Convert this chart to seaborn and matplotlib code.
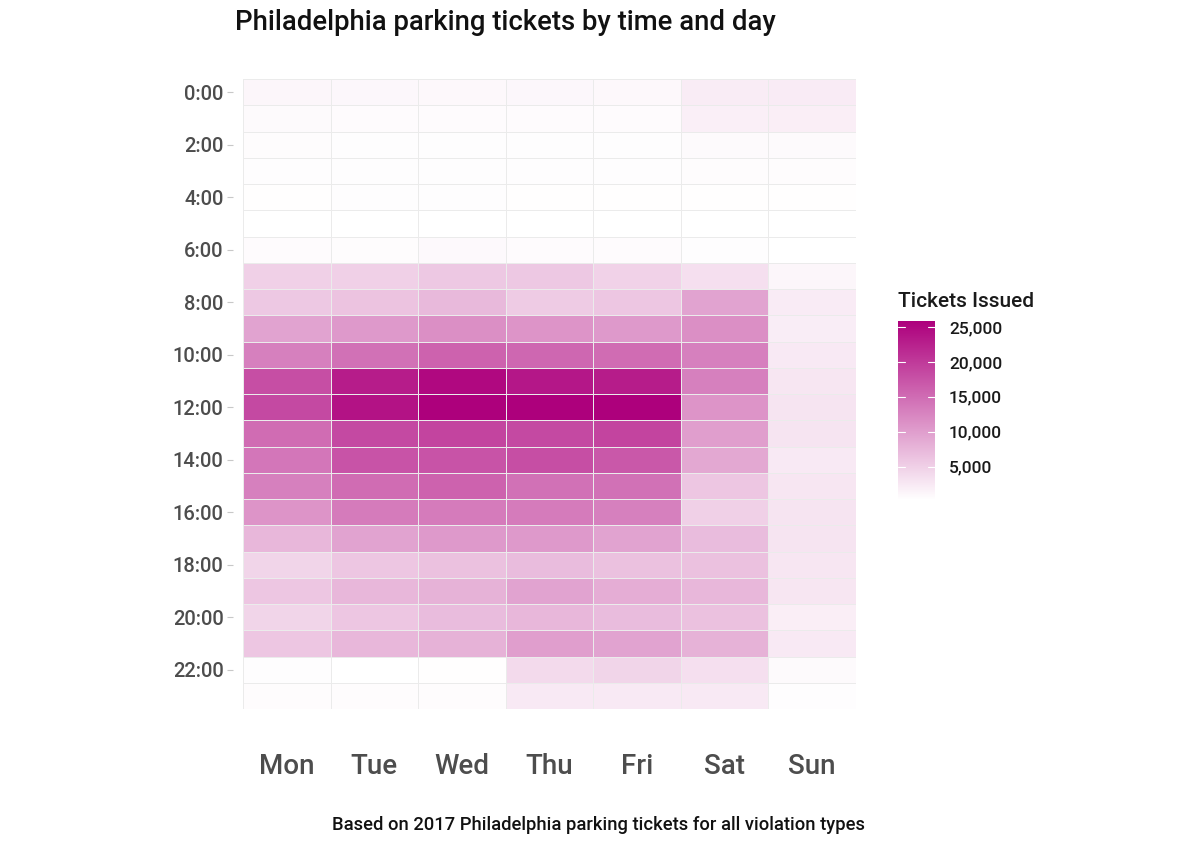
import numpy as np
import pandas as pd
import matplotlib
matplotlib.use("Agg")
import matplotlib.pyplot as plt
import seaborn as sns
from matplotlib.colors import LinearSegmentedColormap

days = ["Mon", "Tue", "Wed", "Thu", "Fri", "Sat", "Sun"]
hours = list(range(24))
hour_labels = [f"{h}:00" for h in hours]

mon = [1200, 800, 600, 500, 400, 300, 700, 5000, 5800, 9500, 13000, 18000, 18500, 15000, 14000, 13000, 11000, 7500, 4500, 6000, 4500, 6000, 500, 600]
tue = [1100, 700, 500, 500, 500, 300, 600, 5000, 6300, 10500, 14500, 23000, 24000, 18500, 17500, 15000, 13500, 9500, 6000, 7500, 6000, 7500, 300, 600]
wed = [1000, 700, 500, 500, 500, 300, 900, 5800, 7300, 11500, 16000, 25000, 25800, 19000, 17500, 16000, 13500, 10500, 6500, 8000, 7000, 8000, 400, 600]
thu = [1100, 700, 500, 500, 400, 300, 700, 5800, 5500, 11000, 15500, 23500, 25800, 18500, 18000, 14500, 13500, 10500, 7000, 9500, 7500, 10000, 4000, 2500]
fri = [1000, 700, 500, 500, 400, 300, 700, 4800, 6000, 10500, 15000, 23000, 25800, 19000, 17000, 14500, 13000, 9500, 6500, 8500, 7000, 9500, 4500, 2500]
sat = [2200, 1900, 800, 600, 400, 300, 500, 3500, 9500, 11500, 13000, 13000, 11000, 10000, 9000, 6000, 5000, 7000, 6500, 7500, 6500, 8000, 3500, 2500]
sun = [2300, 2000, 800, 600, 400, 300, 250, 1200, 2300, 2100, 2500, 2800, 3000, 3000, 2500, 2800, 3000, 3000, 2800, 2800, 2000, 2500, 800, 500]

colorbar_ticks = [5000, 10000, 15000, 20000, 25000]

df = pd.DataFrame({"Mon": mon, "Tue": tue, "Wed": wed, "Thu": thu,
                   "Fri": fri, "Sat": sat, "Sun": sun}, index=hours)[days]

sns.set_theme(style="white")
plt.rcParams["font.family"] = ["Roboto", "DejaVu Sans"]
plt.rcParams["font.weight"] = "medium"

fig = plt.figure(figsize=(12, 8.46), dpi=100)
ax = fig.add_axes([243/1200, 1-709/846, 613/1200, 630/846])
cax = fig.add_axes([898/1200, 1-500/846, 37/1200, 179/846])

cmap = LinearSegmentedColormap.from_list("pk", ["#FFFFFF", "#AD007C"])
sns.heatmap(df, ax=ax, cmap=cmap, vmin=250, vmax=25850,
            linewidths=0.6, linecolor="#ebebeb", cbar_ax=cax,
            cbar_kws={"ticks": colorbar_ticks})

for s in ax.spines.values():
    s.set_visible(False)
ax.spines["left"].set_position(("outward", 7))

ax.set_xlabel("")
ax.set_ylabel("")
ax.set_yticks(np.arange(0, 24, 2) + 0.5)
ax.set_yticklabels(hour_labels[::2], rotation=0, fontsize=14.5, color="#4d4d4d",
                   fontweight="medium")
ax.set_xticks(np.arange(7) + 0.5)
ax.set_xticklabels(days, rotation=0, fontsize=20, color="#4d4d4d", fontweight="medium")
ax.tick_params(axis="y", left=True, length=4, width=0.8, color="#c8c8c8", pad=3)
ax.tick_params(axis="x", bottom=False, pad=26)

cb = ax.collections[0].colorbar
cb.outline.set_visible(False)
cb.ax.tick_params(axis="y", length=0, labelcolor="#1a1a1a", pad=10)
cb.ax.set_yticklabels([f"{t:,}" for t in colorbar_ticks], fontsize=12.5, fontweight="medium")
for t in colorbar_ticks:
    cb.ax.plot([0, 0.2], [t, t], color="white", lw=0.8, transform=cb.ax.get_yaxis_transform())
    cb.ax.plot([0.8, 1.0], [t, t], color="white", lw=0.8, transform=cb.ax.get_yaxis_transform())
cb.ax.set_title("Tickets Issued", fontsize=15, loc="left", color="#1a1a1a", pad=10, x=0,
                fontweight="medium")

fig.text(235/1200, 1-22/846, "Philadelphia parking tickets by time and day",
         fontsize=19.8, ha="left", va="center", color="#111111", fontweight="medium")
fig.text(598/1200, 1-825/846, "Based on 2017 Philadelphia parking tickets for all violation types",
         fontsize=13.2, ha="center", va="center", color="#111111", fontweight="medium")

fig.savefig("out.png", dpi=100)
